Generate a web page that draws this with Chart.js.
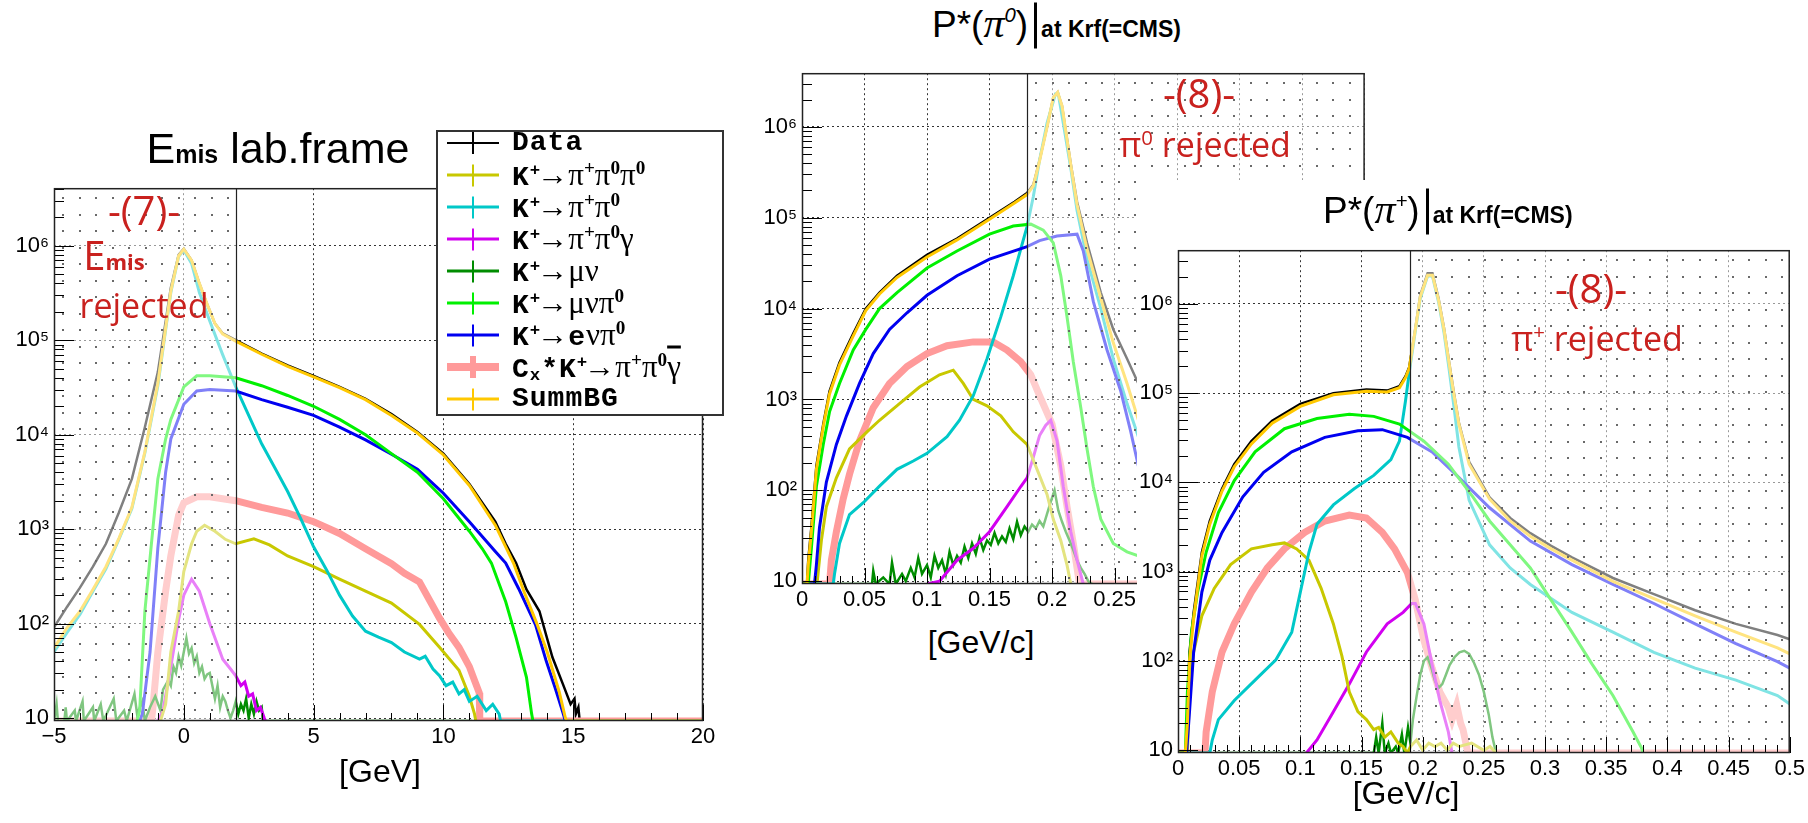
<!DOCTYPE html>
<html>
<head>
<meta charset="utf-8">
<title>Emis and P* spectra</title>
<script src="https://cdn.jsdelivr.net/npm/chart.js@4.4.1/dist/chart.umd.min.js"></script>
<style>
  html, body { margin: 0; padding: 0; background: #fff; }
  body { position: relative; width: 1808px; height: 823px; overflow: hidden; font-family: 'Liberation Sans', Arial, sans-serif; color: #000; }
  canvas { position: absolute; }
  .abs { position: absolute; white-space: nowrap; line-height: 1; }
  .c { transform: translate(-50%, -50%); }
  .red { color: #c9211e; font-family: 'Open Sans', sans-serif; font-size: 34px; z-index: 3; }
  .red sup { font-size: 60%; position: relative; top: -0.6em; vertical-align: baseline; }
  .axt { font-size: 32px; z-index: 3; }
  .ttl { font-size: 43px; z-index: 3; }
  .ptitle { font-size: 37px; transform: translateY(-50%); z-index: 6; }
  .ptitle .gpi { font-family: 'Liberation Serif', serif; font-style: italic; font-size: 42px; }
  .ptitle sup { font-size: 55%; font-style: italic; position: relative; top: -0.75em; vertical-align: baseline; }
  .ptitle .vbar { display: inline-block; width: 3px; height: 46px; background: #000; vertical-align: -12px; margin: 0 4px 0 6px; }
  .ptitle .krf { font-size: 23px; font-weight: bold; }
  #legendBox { position: absolute; left: 436px; top: 130px; width: 284px; height: 282px; border: 2px solid #333; background: #fff; z-index: 4; }
  #legendRows { position: absolute; left: 436px; top: 127px; z-index: 5; }
  .row { position: relative; height: 32px; width: 280px; }
  .sw { position: absolute; left: 11px; top: 16px; width: 52px; height: var(--w); background: var(--c); transform: translateY(-50%); }
  .sw::after { content: ''; position: absolute; left: calc(26px - var(--v) / 2); top: calc(50% - 11px); width: var(--v); height: 22px; background: var(--c); }
  .lt { position: absolute; left: 76px; top: 16px; transform: translateY(-50%); font: bold 28px 'Liberation Mono', monospace; letter-spacing: 1px; white-space: nowrap; line-height: 1; }
  .lt .g { font-family: 'Liberation Serif', serif; font-weight: normal; letter-spacing: 0; font-size: 31px; }
  .lt .ar { margin-left: -4px; }
  .lt sup { font-size: 62%; position: relative; top: -0.55em; vertical-align: baseline; font-weight: bold; }
  .lt sub { font-size: 62%; position: relative; top: 0.2em; vertical-align: baseline; }
  .over { text-decoration: overline; }
  #pipBox { position: absolute; left: 1137px; top: 180px; width: 671px; height: 643px; background: #fff; z-index: 4; }
  #emis { left: 0; top: 170px; z-index: 1; }
  #pi0 { left: 740px; top: 55px; z-index: 1; }
  #pip { left: 1137px; top: 232px; z-index: 5; }
  .hi { z-index: 6; }
</style>
</head>
<body>
<canvas id="emis" width="719" height="585"></canvas>
<canvas id="pi0" width="649" height="563"></canvas>
<div id="pipBox"></div>
<canvas id="pip" width="671" height="555"></canvas>

<div class="abs c ttl" style="left:278px;top:148px">E<b style="font-size:25px">mis</b> lab.frame</div>
<div class="abs c red" style="left:144px;top:210px;font-size:40px">-(7)-</div>
<div class="abs c red" style="left:114px;top:255px;font-size:40px">E<b style="font-size:22px">mis</b></div>
<div class="abs c red" style="left:144px;top:305px">rejected</div>
<div class="abs c axt" style="left:380px;top:771px">[GeV]</div>

<div class="abs ptitle" style="left:932px;top:25px">P*(<span class="gpi">π</span><sup>0</sup>)<span class="vbar"></span><span class="krf">at Krf(=CMS)</span></div>
<div class="abs c red" style="left:1199px;top:93px;font-size:40px">-(8)-</div>
<div class="abs c red" style="left:1205px;top:144px">π<sup>0</sup> rejected</div>
<div class="abs c axt" style="left:981px;top:642px">[GeV/c]</div>

<div class="abs ptitle" style="left:1323px;top:211px">P*(<span class="gpi">π</span><sup>+</sup>)<span class="vbar"></span><span class="krf">at Krf(=CMS)</span></div>
<div class="abs c red hi" style="left:1591px;top:288px;font-size:40px">-(8)-</div>
<div class="abs c red hi" style="left:1597px;top:338px">π<sup>+</sup> rejected</div>
<div class="abs c axt hi" style="left:1406px;top:793px">[GeV/c]</div>

<div id="legendBox"></div>
<div id="legendRows">
  <div class="row"><span class="sw" style="--c:#000;--w:2px;--v:2px"></span><span class="lt">Data</span></div>
  <div class="row"><span class="sw" style="--c:#c8c800;--w:3px;--v:2px"></span><span class="lt">K<sup>+</sup><span class="g"><span class="ar">→</span>π<sup>+</sup>π<sup>0</sup>π<sup>0</sup></span></span></div>
  <div class="row"><span class="sw" style="--c:#00c8c8;--w:3px;--v:2px"></span><span class="lt">K<sup>+</sup><span class="g"><span class="ar">→</span>π<sup>+</sup>π<sup>0</sup></span></span></div>
  <div class="row"><span class="sw" style="--c:#d200f0;--w:3px;--v:2px"></span><span class="lt">K<sup>+</sup><span class="g"><span class="ar">→</span>π<sup>+</sup>π<sup>0</sup>γ</span></span></div>
  <div class="row"><span class="sw" style="--c:#008c00;--w:3px;--v:2px"></span><span class="lt">K<sup>+</sup><span class="g"><span class="ar">→</span>μν</span></span></div>
  <div class="row"><span class="sw" style="--c:#00f000;--w:3px;--v:2px"></span><span class="lt">K<sup>+</sup><span class="g"><span class="ar">→</span>μνπ<sup>0</sup></span></span></div>
  <div class="row"><span class="sw" style="--c:#0000f0;--w:3px;--v:2px"></span><span class="lt">K<sup>+</sup><span class="g"><span class="ar">→</span></span>e<span class="g">νπ<sup>0</sup></span></span></div>
  <div class="row"><span class="sw" style="--c:#ff9a9a;--w:8px;--v:6px"></span><span class="lt">C<sub>x</sub>*K<sup>+</sup><span class="g"><span class="ar">→</span>π<sup>+</sup>π<sup>0</sup><span class="over">γ</span></span></span></div>
  <div class="row"><span class="sw" style="--c:#ffc800;--w:3px;--v:2px"></span><span class="lt">SummBG</span></div>
</div>

<script>
// ---- E_mis, lab frame [GeV] : [x, counts]; 0 = empty bin
const emisData = [[-5, 91], [-4.5, 150], [-4, 240], [-3.5, 400], [-3, 700], [-2.5, 1500], [-2, 3400], [-1.5, 12000], [-1, 46000], [-0.5, 360000], [-0.2, 800000], [0, 930000], [0.3, 700000], [0.6, 400000], [0.9, 240000], [1.2, 150000], [1.5, 118000], [2, 100000], [3, 72000], [4, 54000], [5, 42000], [6, 32000], [7, 24000], [8, 16500], [9, 10700], [10, 6300], [11, 3000], [12, 1200], [12.4, 700], [12.8, 437], [13.2, 230], [13.7, 135], [14.2, 44], [14.6, 23], [14.9, 14], [15.05, 16], [15.1, 11], [15.2, 13], [15.25, 0]];
const emisPipipi = [[-0.9, 0], [-0.7, 14], [-0.5, 50], [-0.2, 135], [0, 355], [0.3, 700], [0.5, 950], [0.8, 1100], [1.2, 950], [1.6, 780], [2, 700], [2.7, 790], [3.3, 680], [4, 520], [5, 400], [6, 295], [7, 220], [8, 165], [9.08, 98], [9.85, 56], [10.6, 32], [11, 17], [11.2, 11], [11.25, 0]];
const emisPipi = [[-5, 50], [-4.5, 80], [-4, 125], [-3.5, 220], [-3, 380], [-2.5, 780], [-2, 1650], [-1.5, 6400], [-1, 33000], [-0.5, 320000], [-0.2, 770000], [0, 900000], [0.3, 650000], [0.6, 320000], [1, 160000], [1.5, 70000], [2, 32000], [2.5, 16000], [3, 8000], [3.5, 4500], [4, 2500], [4.5, 1300], [5, 650], [5.5, 370], [6, 200], [6.5, 120], [7, 83], [7.5, 72], [8, 63], [8.5, 50], [9.08, 42], [9.3, 45], [9.6, 33], [9.85, 28], [10.1, 22], [10.36, 24], [10.6, 18], [10.8, 20], [11, 15], [11.3, 17], [11.65, 12], [11.9, 14], [12.15, 11], [12.2, 0], [20, 0]];
const emisPipig = [[-1, 0], [-0.8, 12], [-0.5, 35], [-0.2, 110], [0, 200], [0.3, 295], [0.6, 220], [1, 100], [1.5, 42], [1.8, 33], [2, 28], [2.2, 22], [2.35, 24], [2.5, 17], [2.65, 18], [2.8, 12], [2.95, 13], [3.1, 10], [3.15, 0]];
const emisMunu = [[-5, 0], [-4.9, 14], [-4.85, 0], [-4.6, 0], [-4.55, 13], [-4.5, 0], [-4.2, 12], [-4.15, 0], [-3.9, 15], [-3.85, 0], [-3.5, 13], [-3.45, 0], [-3.2, 14], [-3.1, 0], [-2.7, 16], [-2.6, 0], [-2.3, 12], [-2.2, 0], [-1.9, 18], [-1.8, 11], [-1.6, 15], [-1.5, 0], [-1.3, 13], [-1.1, 17], [-0.9, 12], [-0.8, 20], [-0.6, 25], [-0.5, 22], [-0.4, 35], [-0.3, 30], [-0.2, 45], [-0.1, 36], [0, 50], [0.1, 70], [0.2, 48], [0.3, 55], [0.4, 38], [0.5, 45], [0.6, 30], [0.7, 35], [0.8, 26], [0.9, 29], [1, 30], [1.1, 22], [1.2, 16], [1.3, 22], [1.4, 13], [1.5, 17], [1.6, 15], [1.7, 12], [1.8, 10], [1.9, 12], [2, 15], [2.1, 11], [2.2, 14], [2.3, 12], [2.4, 16], [2.5, 10], [2.6, 14], [2.7, 11], [2.8, 15], [2.9, 12], [3, 13], [3.05, 0], [11.1, 0]];
const emisMunupi0 = [[-1.8, 0], [-1.7, 12], [-1.5, 135], [-1.2, 950], [-1, 3400], [-0.7, 9000], [-0.5, 14500], [0, 32000], [0.5, 42000], [1, 42000], [2, 40000], [3, 33000], [4, 26000], [5, 20000], [6, 14500], [7, 10000], [8, 6300], [9, 4000], [10, 2100], [11, 950], [11.5, 620], [11.85, 437], [12.4, 170], [12.8, 71], [13.2, 27], [13.4, 11], [13.45, 0]];
const emisEnupi0 = [[-1.7, 0], [-1.6, 11], [-1.3, 50], [-1, 630], [-0.7, 4000], [-0.5, 9000], [0, 21000], [0.5, 29000], [1, 30000], [2, 29000], [3, 23500], [4, 19500], [5, 16000], [6, 12000], [7, 8800], [8, 6200], [9, 4300], [10, 2400], [11, 1200], [12, 580], [12.4, 437], [12.9, 234], [13.55, 97], [13.95, 41], [14.3, 21], [14.6, 11.5], [14.7, 0]];
const emisCx = [[-5, 0], [-1.25, 0], [-1.2, 12], [-1, 50], [-0.7, 220], [-0.5, 520], [-0.2, 1400], [0, 1900], [0.5, 2200], [1, 2200], [2, 2000], [3, 1700], [4, 1480], [5, 1200], [6, 900], [7, 620], [8, 430], [8.5, 340], [9.08, 275], [9.5, 170], [9.85, 114], [10.2, 80], [10.6, 56], [11, 35], [11.2, 25], [11.38, 18.5], [11.4, 0], [20, 0]];
const emisSumm = [[-5, 55], [-4.5, 90], [-4, 135], [-3.5, 230], [-3, 400], [-2.5, 800], [-2, 1700], [-1.5, 6600], [-1, 35000], [-0.5, 330000], [-0.2, 780000], [0, 920000], [0.3, 700000], [0.6, 400000], [0.9, 240000], [1.2, 150000], [1.5, 116000], [2, 98000], [3, 71000], [4, 53000], [5, 41000], [6, 31500], [7, 23500], [8, 16000], [9, 10400], [10, 6100], [11, 2900], [12, 1100], [12.4, 650], [12.7, 437], [13.1, 220], [13.6, 100], [14, 50], [14.46, 19], [14.7, 10], [14.75, 0], [20, 0]];

// ---- P*(pi0) at kaon rest frame [GeV/c]
const pi0Data = [[0, 0], [0.004, 0], [0.005, 17], [0.0075, 39], [0.0115, 186], [0.017, 535], [0.022, 1230], [0.03, 2550], [0.041, 5300], [0.051, 10000], [0.062, 15000], [0.076, 23000], [0.1, 39000], [0.124, 59000], [0.15, 100000], [0.17, 150000], [0.18, 187000], [0.185, 230000], [0.19, 430000], [0.196, 1000000], [0.201, 2100000], [0.2045, 2400000], [0.208, 1700000], [0.215, 390000], [0.22, 150000], [0.228, 53000], [0.239, 15000], [0.249, 5900], [0.26, 2800], [0.269, 1500], [0.28, 800], [0.3, 300]];
const pi0Pipipi = [[0, 0], [0.012, 0], [0.0155, 28], [0.0195, 66], [0.0275, 137], [0.038, 285], [0.052, 440], [0.062, 590], [0.078, 900], [0.094, 1370], [0.11, 1870], [0.121, 2100], [0.129, 1500], [0.137, 1000], [0.148, 850], [0.159, 660], [0.169, 440], [0.18, 320], [0.188, 170], [0.196, 90], [0.201, 48], [0.207, 28], [0.212, 15], [0.215, 0]];
const pi0Pipi = [[0, 0], [0.025, 0], [0.026, 12], [0.03, 26], [0.038, 54], [0.049, 73], [0.062, 111], [0.076, 170], [0.089, 210], [0.1, 255], [0.116, 390], [0.126, 590], [0.137, 1100], [0.148, 2800], [0.159, 8100], [0.169, 23000], [0.18, 80000], [0.185, 170000], [0.19, 430000], [0.196, 1100000], [0.2027, 2300000], [0.205, 2300000], [0.209, 1100000], [0.215, 350000], [0.22, 120000], [0.228, 35000], [0.239, 10000], [0.249, 2800], [0.26, 900], [0.269, 390], [0.28, 150]];
const pi0Pipig = [[0.1, 0], [0.11, 10], [0.124, 17], [0.137, 23], [0.15, 35], [0.164, 66], [0.175, 110], [0.18, 137], [0.185, 230], [0.19, 400], [0.195, 520], [0.199, 590], [0.204, 350], [0.209, 110], [0.215, 35], [0.22, 17], [0.225, 0]];
const pi0Munu = [[0.025, 0], [0.056, 0], [0.057, 13], [0.059, 0], [0.065, 11], [0.07, 0], [0.072, 16], [0.075, 0], [0.08, 12], [0.083, 10], [0.087, 14], [0.09, 11], [0.093, 18], [0.096, 12], [0.1, 15], [0.103, 11], [0.106, 19], [0.109, 14], [0.112, 17], [0.115, 12], [0.118, 21], [0.121, 15], [0.124, 19], [0.127, 16], [0.13, 24], [0.133, 18], [0.136, 26], [0.139, 20], [0.142, 30], [0.145, 22], [0.148, 28], [0.151, 25], [0.154, 34], [0.157, 26], [0.16, 31], [0.163, 27], [0.166, 38], [0.169, 29], [0.172, 45], [0.175, 32], [0.178, 40], [0.181, 35], [0.184, 42], [0.187, 38], [0.19, 46], [0.193, 40], [0.196, 55], [0.199, 75], [0.202, 100], [0.205, 60], [0.208, 45], [0.211, 35], [0.214, 28], [0.217, 22], [0.22, 17], [0.223, 14], [0.226, 12], [0.229, 10], [0.232, 0]];
const pi0Munupi0 = [[0, 0], [0.005, 0], [0.0075, 23], [0.0115, 110], [0.017, 320], [0.022, 730], [0.03, 1500], [0.041, 3500], [0.051, 5900], [0.062, 10000], [0.076, 15000], [0.1, 28000], [0.124, 43000], [0.15, 66000], [0.169, 81000], [0.183, 85000], [0.193, 73000], [0.201, 53000], [0.207, 23000], [0.212, 8100], [0.217, 2600], [0.223, 810], [0.228, 285], [0.233, 110], [0.239, 48], [0.249, 26], [0.26, 21], [0.269, 19], [0.28, 15]];
const pi0Enupi0 = [[0, 0], [0.01, 0], [0.0115, 15], [0.014, 39], [0.0195, 123], [0.0275, 320], [0.0356, 660], [0.046, 1500], [0.057, 3200], [0.07, 5900], [0.084, 9000], [0.1, 14000], [0.124, 23000], [0.15, 35000], [0.18, 48000], [0.19, 56000], [0.204, 63000], [0.22, 66000], [0.225, 43000], [0.233, 12000], [0.244, 3500], [0.255, 1230], [0.263, 440], [0.269, 186], [0.28, 80]];
const pi0Cx = [[0, 0], [0.022, 0], [0.0235, 17], [0.0275, 35], [0.033, 81], [0.038, 150], [0.046, 350], [0.057, 810], [0.07, 1500], [0.084, 2300], [0.1, 3200], [0.116, 3900], [0.137, 4300], [0.153, 4300], [0.164, 3500], [0.175, 2600], [0.183, 1870], [0.19, 1100], [0.2, 535], [0.207, 186], [0.212, 66], [0.217, 26], [0.22, 14], [0.222, 0], [0.45, 0]];
const pi0Summ = [[0, 0], [0.004, 0], [0.005, 15], [0.0075, 35], [0.0115, 170], [0.017, 500], [0.022, 1150], [0.03, 2400], [0.041, 5000], [0.051, 9500], [0.062, 14500], [0.076, 22000], [0.1, 37000], [0.124, 57000], [0.15, 96000], [0.17, 145000], [0.18, 180000], [0.185, 225000], [0.19, 420000], [0.196, 990000], [0.201, 2100000], [0.2045, 2400000], [0.208, 1700000], [0.215, 380000], [0.22, 140000], [0.228, 45000], [0.239, 13000], [0.249, 4200], [0.26, 1500], [0.269, 600], [0.28, 300]];

// ---- P*(pi+) at kaon rest frame [GeV/c]
const pipData = [[0, 0], [0.007, 0], [0.0077, 27], [0.0094, 126], [0.0128, 350], [0.0195, 1650], [0.026, 3700], [0.036, 8500], [0.046, 16000], [0.06, 29000], [0.077, 49000], [0.1, 76000], [0.127, 100000], [0.154, 110000], [0.171, 107000], [0.181, 120000], [0.186, 155000], [0.189, 195000], [0.194, 530000], [0.198, 1250000], [0.204, 2200000], [0.208, 2200000], [0.213, 1150000], [0.2174, 540000], [0.2215, 230000], [0.2256, 100000], [0.2296, 47000], [0.238, 17000], [0.2547, 6800], [0.2715, 4000], [0.288, 2700], [0.305, 1950], [0.322, 1450], [0.3555, 850], [0.389, 560], [0.4227, 370], [0.456, 260], [0.49, 195], [0.5, 175]];
const pipPipipi = [[0, 0], [0.0077, 0], [0.0094, 45], [0.0128, 126], [0.0195, 320], [0.0296, 650], [0.043, 1200], [0.06, 1800], [0.077, 2000], [0.087, 2100], [0.097, 1800], [0.107, 1350], [0.117, 650], [0.127, 260], [0.134, 113], [0.14, 45], [0.147, 27], [0.154, 22], [0.16, 17], [0.164, 18], [0.169, 14], [0.174, 16], [0.18, 12], [0.184, 11], [0.1875, 0], [0.19, 11], [0.195, 13], [0.2, 10], [0.205, 12], [0.21, 11], [0.215, 12], [0.22, 10], [0.225, 12], [0.23, 11], [0.24, 12], [0.25, 10], [0.255, 11], [0.26, 0]];
const pipPipi = [[0, 0], [0.026, 0], [0.028, 13], [0.033, 22], [0.046, 36], [0.063, 61], [0.08, 103], [0.093, 210], [0.1, 590], [0.107, 1650], [0.1136, 3400], [0.127, 5600], [0.144, 8500], [0.16, 12000], [0.174, 18000], [0.181, 29000], [0.186, 83000], [0.189, 170000], [0.194, 500000], [0.198, 1150000], [0.204, 2050000], [0.208, 2050000], [0.213, 1050000], [0.2174, 480000], [0.2215, 190000], [0.2256, 70000], [0.2296, 25000], [0.238, 6300], [0.2547, 2000], [0.2715, 1100], [0.288, 720], [0.322, 350], [0.3555, 210], [0.389, 125], [0.4227, 83], [0.456, 61], [0.49, 41], [0.5, 33]];
const pipPipig = [[0.105, 0], [0.1136, 13], [0.127, 27], [0.14, 55], [0.154, 126], [0.171, 260], [0.184, 350], [0.191, 440], [0.194, 440], [0.201, 260], [0.2077, 91], [0.214, 36], [0.221, 16], [0.224, 0]];
const pipMunu = [[0.03, 0], [0.16, 0], [0.162, 14], [0.164, 0], [0.167, 20], [0.169, 0], [0.172, 12], [0.174, 0], [0.178, 11], [0.18, 0], [0.183, 15], [0.185, 0], [0.188, 18], [0.19, 12], [0.192, 22], [0.195, 40], [0.198, 70], [0.201, 100], [0.204, 110], [0.207, 85], [0.21, 60], [0.213, 50], [0.216, 55], [0.219, 70], [0.222, 90], [0.226, 110], [0.23, 125], [0.234, 130], [0.238, 120], [0.242, 95], [0.246, 70], [0.25, 45], [0.254, 25], [0.257, 14], [0.26, 0]];
const pipMunupi0 = [[0, 0], [0.006, 0], [0.0077, 45], [0.011, 210], [0.016, 590], [0.023, 1650], [0.033, 4600], [0.046, 10500], [0.063, 22000], [0.087, 40000], [0.1136, 52000], [0.14, 58000], [0.16, 55000], [0.181, 45000], [0.201, 29000], [0.221, 16000], [0.241, 6900], [0.2547, 3700], [0.2715, 2000], [0.288, 1100], [0.305, 480], [0.322, 210], [0.3387, 91], [0.3555, 41], [0.372, 16], [0.379, 10.5], [0.38, 0]];
const pipEnupi0 = [[0, 0], [0.007, 0], [0.0094, 27], [0.0128, 126], [0.0195, 590], [0.026, 1350], [0.036, 2750], [0.053, 6900], [0.07, 13000], [0.093, 22000], [0.12, 32000], [0.147, 38000], [0.167, 39000], [0.1875, 32000], [0.2077, 22000], [0.2278, 12000], [0.2547, 5200], [0.288, 2200], [0.322, 1200], [0.3555, 720], [0.389, 440], [0.4227, 260], [0.456, 156], [0.49, 98], [0.5, 83]];
const pipCx = [[0, 0], [0.022, 0], [0.023, 16], [0.028, 45], [0.036, 126], [0.046, 260], [0.06, 590], [0.073, 1100], [0.087, 1800], [0.1035, 2750], [0.12, 3700], [0.14, 4300], [0.154, 4000], [0.167, 2750], [0.177, 1800], [0.1875, 980], [0.194, 480], [0.201, 170], [0.2077, 83], [0.214, 45], [0.221, 30], [0.224, 22], [0.2278, 32], [0.231, 20], [0.233, 17], [0.236, 10.7], [0.237, 0], [0.5, 0]];
const pipSumm = [[0, 0], [0.006, 0], [0.0077, 20], [0.0094, 100], [0.0128, 300], [0.0195, 1500], [0.026, 3400], [0.036, 8000], [0.046, 15000], [0.06, 27000], [0.077, 46000], [0.1, 71000], [0.127, 96000], [0.154, 105000], [0.171, 103000], [0.181, 115000], [0.186, 150000], [0.189, 190000], [0.194, 520000], [0.198, 1200000], [0.204, 2100000], [0.208, 2100000], [0.213, 1100000], [0.2174, 520000], [0.2215, 220000], [0.2256, 95000], [0.2296, 45000], [0.238, 16000], [0.2547, 6500], [0.2715, 3700], [0.288, 2500], [0.305, 1800], [0.322, 1350], [0.3555, 780], [0.389, 500], [0.4227, 320], [0.456, 210], [0.49, 140], [0.5, 120]];

const DECADES = [10, 100, 1000, 10000, 100000, 1000000];
const POWER_LABELS = { 10: '10', 100: '10²', 1000: '10³', 10000: '10⁴', 100000: '10⁵', 1000000: '10⁶' };

const COLORS = {
  data: '#000000', pipipi: '#c8c800', pipi: '#00c8c8', pipig: '#d200f0', munu: '#008c00',
  munupi0: '#00f000', enupi0: '#0000f0', cx: '#ff9a9a', summ: '#ffc800',
};

// [label, points, colour, line width, draw order (lower = on top)]
function seriesList(d) {
  return [
    ['Data', d.data, COLORS.data, 2.5, 9],
    ['K+ -> pi+ pi0 pi0', d.pipipi, COLORS.pipipi, 3, 4],
    ['K+ -> pi+ pi0', d.pipi, COLORS.pipi, 3, 3],
    ['K+ -> pi+ pi0 gamma', d.pipig, COLORS.pipig, 3, 5],
    ['K+ -> mu nu', d.munu, COLORS.munu, 2.5, 6],
    ['K+ -> mu nu pi0', d.munupi0, COLORS.munupi0, 3, 1],
    ['K+ -> e nu pi0', d.enupi0, COLORS.enupi0, 3, 2],
    ['Cx*K+ -> pi+ pi0 gamma', d.cx, COLORS.cx, 7, 8],
    ['SummBG', d.summ, COLORS.summ, 3, 0],
  ];
}

// ROOT look: frame, inside ticks, the dotted "rejected" box and the cut line
function rootFrame(cfg) {
  return {
    id: 'rootFrame',
    afterDatasetsDraw(chart) {
      const { ctx, chartArea: a, scales: { x, y } } = chart;
      const cut = x.getPixelForValue(cfg.cut);
      const x0 = cfg.side === 'left' ? a.left : cut;
      const x1 = cfg.side === 'left' ? cut : a.right;
      ctx.save();
      ctx.fillStyle = 'rgba(255,255,255,0.5)';
      ctx.fillRect(x0, a.top, x1 - x0, a.bottom - a.top);
      ctx.fillStyle = '#6a6a6a';
      for (let px = x0 + 8; px < x1 - 3; px += 16.5) {
        for (let py = a.top + 9; py < a.bottom - 3; py += 16.5) {
          ctx.fillRect(Math.round(px), Math.round(py), 2, 2);
        }
      }
      ctx.strokeStyle = '#222';
      ctx.lineWidth = 1.2;
      ctx.beginPath();
      ctx.moveTo(Math.round(cut) + 0.5, a.top);
      ctx.lineTo(Math.round(cut) + 0.5, a.bottom);
      ctx.stroke();

      ctx.strokeStyle = '#000';
      ctx.lineWidth = 1;
      ctx.beginPath();
      const n = Math.round((cfg.xMax - cfg.xMin) / cfg.minorStep);
      for (let i = 0; i <= n; i++) {
        const v = cfg.xMin + i * cfg.minorStep;
        const r = v / cfg.majorStep;
        const len = Math.abs(r - Math.round(r)) < 1e-6 ? 16 : 8;
        const px = Math.round(x.getPixelForValue(v)) + 0.5;
        ctx.moveTo(px, a.bottom);
        ctx.lineTo(px, a.bottom - len);
      }
      for (const d of DECADES) {
        for (let m = 1; m <= 9; m++) {
          const v = m * d;
          if (v < y.min || v > y.max) continue;
          const py = Math.round(y.getPixelForValue(v)) + 0.5;
          ctx.moveTo(a.left, py);
          ctx.lineTo(a.left + (m === 1 ? 20 : 10), py);
        }
      }
      ctx.stroke();
      ctx.lineWidth = 1.5;
      ctx.strokeStyle = '#222';
      ctx.strokeRect(a.left + 0.5, a.top + 0.5, a.right - a.left - 1, a.bottom - a.top - 1);
      ctx.restore();
    },
  };
}

const tickFont = { family: "'Liberation Sans', Arial, sans-serif", size: 22 };

function makePanel(id, cfg) {
  return new Chart(document.getElementById(id), {
    type: 'line',
    data: {
      datasets: seriesList(cfg.series).map(([label, pts, color, width, order]) => ({
        label,
        order,
        data: pts.map(([x, v]) => ({ x, y: v > 0 ? v : cfg.yMin })),
        borderColor: color,
        borderWidth: width,
        pointRadius: 0,
        tension: 0,
        fill: false,
      })),
    },
    options: {
      responsive: false,
      animation: false,
      devicePixelRatio: 1,
      layout: { padding: { top: 7, right: cfg.padRight, left: 0, bottom: 0 } },
      plugins: { legend: { display: false }, tooltip: { enabled: false } },
      scales: {
        x: {
          type: 'linear',
          min: cfg.xMin,
          max: cfg.xMax,
          afterFit: (s) => { s.height = 34; },
          ticks: {
            stepSize: cfg.majorStep,
            autoSkip: false,
            maxRotation: 0,
            padding: 3,
            color: '#000',
            font: tickFont,
            callback: (v) => (v < 0 ? '−' + Math.abs(v) : String(+v.toFixed(2))),
          },
          grid: { color: 'rgba(0,0,0,0.8)', lineWidth: 1, drawTicks: false },
          border: { display: false, dash: [2, 3] },
        },
        y: {
          type: 'logarithmic',
          min: cfg.yMin,
          max: cfg.yMax,
          afterFit: (s) => { s.width = cfg.yWidth; },
          afterBuildTicks: (s) => { s.ticks = DECADES.map((v) => ({ value: v })); },
          ticks: {
            autoSkip: false,
            padding: 5,
            color: '#000',
            font: tickFont,
            callback: (v) => POWER_LABELS[v] || '',
          },
          grid: { color: 'rgba(0,0,0,0.8)', lineWidth: 1, drawTicks: false },
          border: { display: false, dash: [2, 3] },
        },
      },
    },
    plugins: [rootFrame(cfg)],
  });
}

makePanel('emis', {
  series: { data: emisData, pipipi: emisPipipi, pipi: emisPipi, pipig: emisPipig, munu: emisMunu, munupi0: emisMunupi0, enupi0: emisEnupi0, cx: emisCx, summ: emisSumm },
  xMin: -5, xMax: 20, majorStep: 5, minorStep: 1,
  yMin: 9.3, yMax: 4.07e6, yWidth: 54, padRight: 16,
  cut: 2, side: 'left',
});

makePanel('pi0', {
  series: { data: pi0Data, pipipi: pi0Pipipi, pipi: pi0Pipi, pipig: pi0Pipig, munu: pi0Munu, munupi0: pi0Munupi0, enupi0: pi0Enupi0, cx: pi0Cx, summ: pi0Summ },
  xMin: 0, xMax: 0.45, majorStep: 0.05, minorStep: 0.01,
  yMin: 9.3, yMax: 3.9e6, yWidth: 62, padRight: 24,
  cut: 0.18, side: 'right',
});

makePanel('pip', {
  series: { data: pipData, pipipi: pipPipipi, pipi: pipPipi, pipig: pipPipig, munu: pipMunu, munupi0: pipMunupi0, enupi0: pipEnupi0, cx: pipCx, summ: pipSumm },
  xMin: 0, xMax: 0.5, majorStep: 0.05, minorStep: 0.01,
  yMin: 9.3, yMax: 4.0e6, yWidth: 41, padRight: 16,
  cut: 0.19, side: 'right',
});
</script>
</body>
</html>
